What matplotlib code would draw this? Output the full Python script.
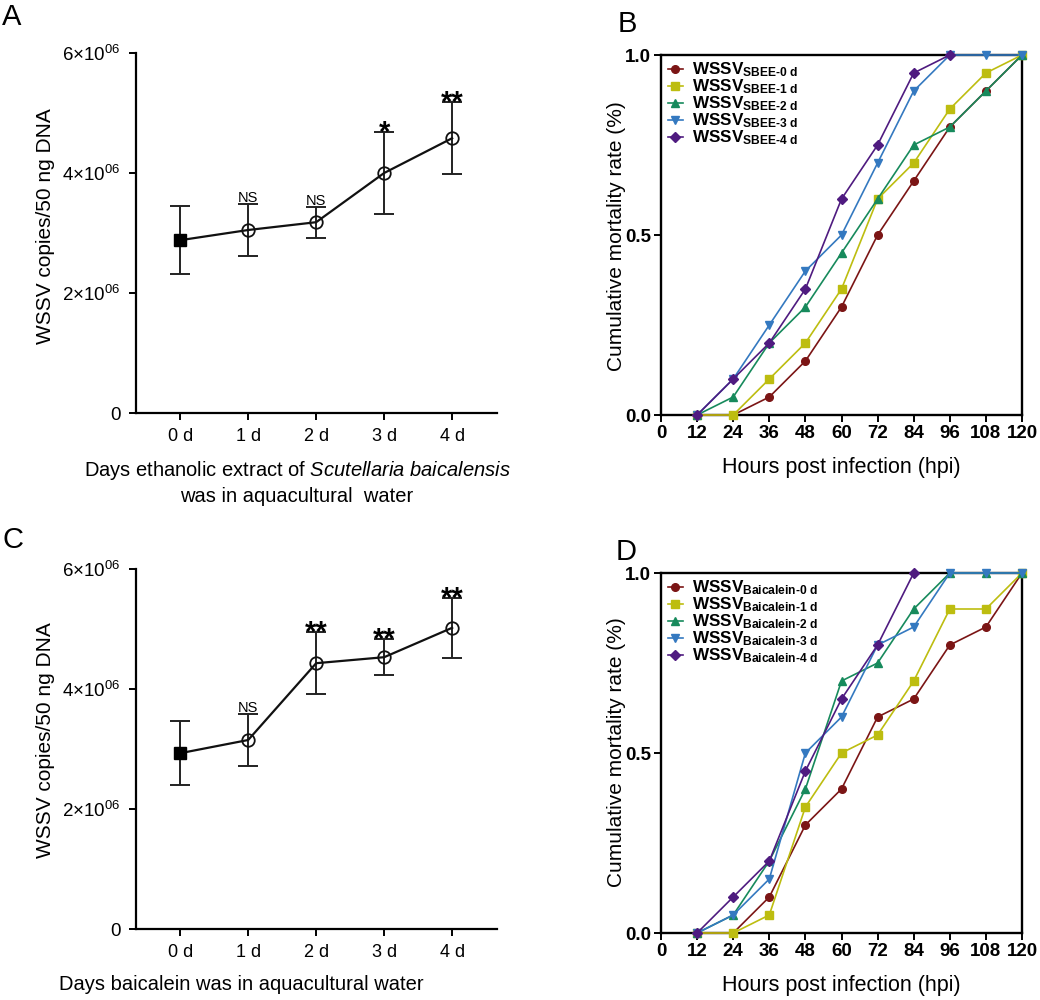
import matplotlib
matplotlib.use('Agg')
import matplotlib.pyplot as plt
import numpy as np

plt.rcParams['font.family'] = ['Liberation Sans', 'DejaVu Sans']
plt.rcParams['mathtext.fontset'] = 'custom'
plt.rcParams['mathtext.rm'] = 'Liberation Sans'
plt.rcParams['mathtext.it'] = 'Liberation Sans:italic'
plt.rcParams['mathtext.bf'] = 'Liberation Sans:bold'

# panels A / C: viral copies by day
days = ['0 d', '1 d', '2 d', '3 d', '4 d']
sbee_copies = [2.88e6, 3.05e6, 3.18e6, 4.00e6, 4.58e6]
sbee_err = [0.57e6, 0.43e6, 0.26e6, 0.68e6, 0.60e6]
sbee_sig = ['', 'NS', 'NS', '*', '**']
baic_copies = [2.93e6, 3.15e6, 4.43e6, 4.53e6, 5.02e6]
baic_err = [0.53e6, 0.44e6, 0.52e6, 0.30e6, 0.50e6]
baic_sig = ['', 'NS', '**', '**', '**']
copy_ticks = [0, 2e6, 4e6, 6e6]
copy_ticklabels = ['0', r'$2{\times}10^{06}$', r'$4{\times}10^{06}$', r'$6{\times}10^{06}$']

# panels B / D: cumulative mortality
hpi = [12, 24, 36, 48, 60, 72, 84, 96, 108, 120]
nan = np.nan
sbee_0d = [0, 0, 0.05, 0.15, 0.30, 0.50, 0.65, 0.80, 0.90, 1.0]
sbee_1d = [0, 0, 0.10, 0.20, 0.35, 0.60, 0.70, 0.85, 0.95, 1.0]
sbee_2d = [0, 0.05, 0.20, 0.30, 0.45, 0.60, 0.75, 0.80, 0.90, 1.0]
sbee_3d = [0, 0.10, 0.25, 0.40, 0.50, 0.70, 0.90, 1.0, 1.0, 1.0]
sbee_4d = [0, 0.10, 0.20, 0.35, 0.60, 0.75, 0.95, 1.0, nan, nan]
baic_0d = [0, 0, 0.10, 0.30, 0.40, 0.60, 0.65, 0.80, 0.85, 1.0]
baic_1d = [0, 0, 0.05, 0.35, 0.50, 0.55, 0.70, 0.90, 0.90, 1.0]
baic_2d = [0, 0.05, 0.20, 0.40, 0.70, 0.75, 0.90, 1.0, 1.0, 1.0]
baic_3d = [0, 0.05, 0.15, 0.50, 0.60, 0.80, 0.85, 1.0, 1.0, 1.0]
baic_4d = [0, 0.10, 0.20, 0.45, 0.65, 0.80, 1.0, nan, nan, nan]
group_days = ['0 d', '1 d', '2 d', '3 d', '4 d']

colors = ['#7b1515', '#bdbd10', '#178a5c', '#3479c0', '#4f1b80']
markers = ['o', 's', '^', 'v', 'D']

W, H = 1040, 1000
fig = plt.figure(figsize=(10.4, 10), dpi=100)


def px_axes(left, top, right, bottom):
    return fig.add_axes([left / W, 1 - bottom / H, (right - left) / W, (bottom - top) / H])


def copies_panel(ax, vals, errs, sig):
    x = np.arange(len(vals))
    ax.errorbar(x, vals, yerr=errs, fmt='none', ecolor='#222222', elinewidth=1.4,
                capsize=7, capthick=1.4, zorder=2)
    ax.plot(x, vals, '-', color='#111111', lw=1.6, zorder=3)
    ax.plot(x[:1], vals[:1], 's', color='black', ms=8, zorder=4)
    ax.plot(x[1:], vals[1:], 'o', mfc='none', mec='#111111', mew=1.3, ms=9, zorder=4)
    for xi, v, e, s in zip(x, vals, errs, sig):
        if not s:
            continue
        if s == 'NS':
            ax.annotate(s, (xi, v + e), xytext=(0, 1.5), textcoords='offset points',
                        ha='center', va='baseline', fontsize=10.5)
        else:
            ax.annotate(s, (xi, v + e), xytext=(0, -6.5), textcoords='offset points',
                        ha='center', va='baseline', fontsize=21, fontweight='bold')
    ax.set_xlim(-0.65, 4.66)
    ax.set_ylim(0, 6e6)
    ax.set_xticks(x)
    ax.set_xticklabels(days, fontsize=13)
    ax.set_yticks(copy_ticks)
    ax.set_yticklabels(copy_ticklabels, fontsize=13.5)
    for side in ['top', 'right']:
        ax.spines[side].set_visible(False)
    for side in ['left', 'bottom']:
        ax.spines[side].set_linewidth(1.6)
    ax.tick_params(direction='out', length=5, width=1.4, pad=6)


def mortality_panel(ax, series, prefix):
    for vals, c, m, d in zip(series, colors, markers, group_days):
        label = 'WSSV$_{\\mathbf{' + prefix + '\u2010' + d.replace(' ', '\\ ') + '}}$'
        ax.plot(hpi, vals, '-', color=c, lw=1.2, marker=m, ms=5.5, mfc=c, mec=c,
                clip_on=False, zorder=3, label=label)
    ax.set_xlim(0, 120)
    ax.set_ylim(0, 1.0)
    ax.set_xticks(range(0, 121, 12))
    ax.set_yticks([0, 0.5, 1.0])
    ax.set_yticklabels(['0.0', '0.5', '1.0'])
    for lab in ax.get_xticklabels() + ax.get_yticklabels():
        lab.set_fontsize(13.5)
        lab.set_fontweight('bold')
    for side in ax.spines.values():
        side.set_linewidth(1.7)
    ax.tick_params(direction='out', length=5, width=1.4, pad=2)
    ax.legend(loc='upper left', bbox_to_anchor=(-0.01, 1.013), frameon=False,
              handlelength=0.9, handletextpad=0.5, labelspacing=-0.1,
              borderaxespad=0.2, prop={'size': 12.3, 'weight': 'bold'})


axA = px_axes(136, 53, 497, 413)
copies_panel(axA, sbee_copies, sbee_err, sbee_sig)
axC = px_axes(136, 569, 497, 929)
copies_panel(axC, baic_copies, baic_err, baic_sig)

axB = px_axes(661, 55, 1022, 415)
mortality_panel(axB, [sbee_0d, sbee_1d, sbee_2d, sbee_3d, sbee_4d], 'SBEE')
axD = px_axes(661, 573, 1022, 933)
mortality_panel(axD, [baic_0d, baic_1d, baic_2d, baic_3d, baic_4d], 'Baicalein')


def ftext(x, y, s, **kw):
    fig.text(x / W, 1 - y / H, s, **kw)


ftext(2, 3, 'A', fontsize=21, va='top', ha='left')
ftext(618, 10, 'B', fontsize=21, va='top', ha='left')
ftext(2, 526, 'C', fontsize=21, va='top', ha='left')
ftext(616, 538, 'D', fontsize=21, va='top', ha='left')

ftext(46, 226, 'WSSV copies/50 ng DNA', fontsize=15, rotation=90, ha='center', va='center')
ftext(46, 740, 'WSSV copies/50 ng DNA', fontsize=15, rotation=90, ha='center', va='center')
ftext(616, 236, 'Cumulative mortality rate (%)', fontsize=15, rotation=90, ha='center', va='center')
ftext(616, 752, 'Cumulative mortality rate (%)', fontsize=15, rotation=90, ha='center', va='center')

ftext(297, 471, r'Days ethanolic extract of $\mathit{Scutellaria\ baicalensis}$',
      fontsize=14.5, ha='center', va='center')
ftext(297, 497, 'was in aquacultural  water', fontsize=14.5, ha='center', va='center')
ftext(241, 985, 'Days baicalein was in aquacultural water', fontsize=14.5, ha='center', va='center')
ftext(841, 468, 'Hours post infection (hpi)', fontsize=15.5, ha='center', va='center')
ftext(841, 985, 'Hours post infection (hpi)', fontsize=15.5, ha='center', va='center')

fig.savefig('out.png', dpi=100)
